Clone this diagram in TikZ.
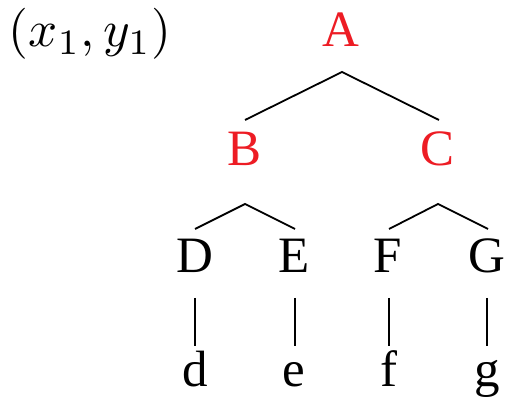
\documentclass[tikz,border=0pt]{standalone}
\usepackage{graphicx}
\usepackage{fontspec}
\setmainfont{Liberation Serif}
\definecolor{treered}{RGB}{237,28,36}
\begin{document}
\begin{tikzpicture}[x=1pt,y=1pt,
  lbl/.style={inner sep=0pt, anchor=base, font=\fontsize{51}{60}\selectfont},
  redlbl/.style={lbl, text=treered},
  branch/.style={line width=1.8pt, black},
  stem/.style={line width=2.3pt, black}]
\useasboundingbox (0,0) rectangle (506,403);
\node[inner sep=0pt, anchor=base] (xy) at (90,356) {\scalebox{5.1}{$(x_1,y_1)$}};
\node[redlbl] (A) at (341,356) {A};
\node[redlbl] (B) at (245,237) {B};
\node[redlbl] (C) at (438,237) {C};
\node[lbl] (D) at (195,130) {D};
\node[lbl] (E) at (294,130) {E};
\node[lbl] (F) at (388,130) {F};
\node[lbl] (G) at (487,130) {G};
\node[lbl] (d) at (195,16) {d};
\node[lbl] (e) at (294,16) {e};
\node[lbl] (f) at (389,16) {f};
\node[lbl] (g) at (487,16) {g};
% connector points
\coordinate (Aapex) at (342,331);
\coordinate (Bend) at (245,283);
\coordinate (Cend) at (439,283);
\coordinate (Bapex) at (245,199);
\coordinate (Dend) at (195,174);
\coordinate (Eend) at (295,174);
\coordinate (Capex) at (438,199);
\coordinate (Fend) at (389,174);
\coordinate (Gend) at (488,174);
\draw[branch] (Bend) -- (Aapex) -- (Cend);
\draw[branch] (Dend) -- (Bapex) -- (Eend);
\draw[branch] (Fend) -- (Capex) -- (Gend);
\coordinate (Dtop) at (195,105); \coordinate (dtop) at (195,57);
\coordinate (Etop) at (295,105); \coordinate (etop) at (295,57);
\coordinate (Ftop) at (389,105); \coordinate (ftop) at (389,57);
\coordinate (Gtop) at (487,105); \coordinate (gtop) at (487,57);
\draw[stem] (Dtop) -- (dtop);
\draw[stem] (Etop) -- (etop);
\draw[stem] (Ftop) -- (ftop);
\draw[stem] (Gtop) -- (gtop);
\end{tikzpicture}
\end{document}
